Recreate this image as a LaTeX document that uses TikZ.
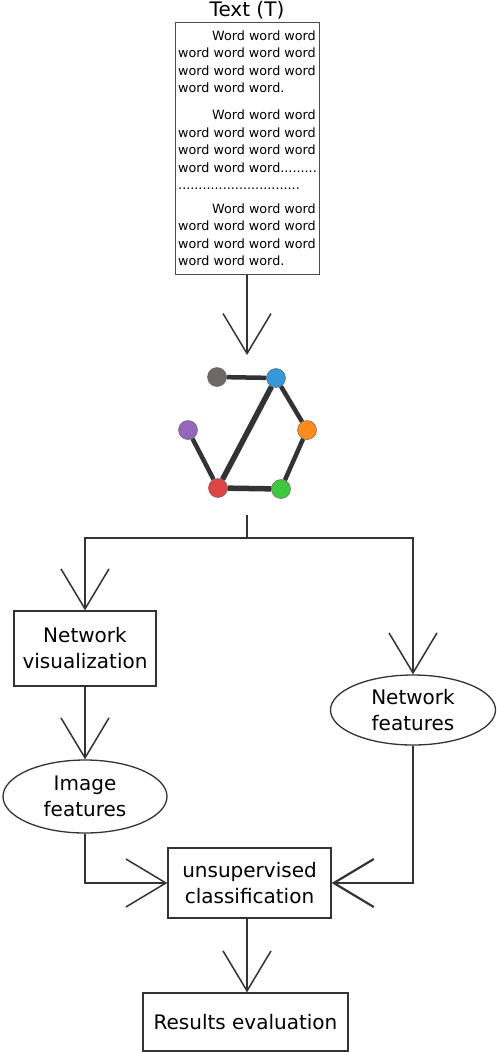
\documentclass[tikz,border=0pt]{standalone}
\usepackage{fontspec}
\setmainfont{DejaVu Sans}
\usetikzlibrary{arrows.meta,shapes.geometric,patterns}
\definecolor{vblue}{RGB}{52,152,219}
\definecolor{vorange}{RGB}{255,140,26}
\definecolor{vpurple}{RGB}{148,103,189}
\definecolor{vred}{RGB}{222,68,68}
\definecolor{vgreen}{RGB}{62,200,62}
\definecolor{vgray}{RGB}{105,105,105}

\begin{document}
\begin{tikzpicture}[x=1pt,y=-1pt,
  box/.style={draw=black!80,line width=1.3pt,inner sep=0pt,align=center,font=\fontsize{20}{26}\selectfont},
  oval/.style={box,ellipse},
  flow/.style={draw=black!80,line width=1.5pt,-{Straight Barb[length=40pt,width=48pt]}},
  plain/.style={draw=black!80,line width=1.5pt},
  link/.style={draw=black!80,line width=4.5pt},
  vertex/.style={circle,draw=black!60,line width=0.5pt,minimum size=19pt,inner sep=0pt}]
\useasboundingbox (0,0) rectangle (496,1052);

% input text
\node[font=\fontsize{20}{24}\selectfont] (title) at (247,10) {Text (T)};
\node[draw=black!70,line width=0.8pt,anchor=north,minimum height=252pt,inner xsep=3pt,
  align=left,font=\fontsize{12.75}{17.5}\selectfont] (text) at (247.5,22) {%
\hspace*{34pt}Word word word\\word word word word\\word word word word\\word word word.\\[9.5pt]
\hspace*{34pt}Word word word\\word word word word\\word word word word\\word word word.........\\
..............................\\[6pt]
\hspace*{34pt}Word word word\\word word word word\\word word word word\\word word word.};
\coordinate (gtop) at (247,355);
\draw[flow] (text.south -| gtop) -- (gtop);

% network
\node[vertex,fill=vgray,postaction={pattern=dots,pattern color=vred}] (ngray) at (217,377) {};
\node[vertex,fill=vblue] (nblue) at (276,378) {};
\node[vertex,fill=vorange] (norange) at (307,430) {};
\node[vertex,fill=vpurple] (npurple) at (188,430) {};
\node[vertex,fill=vred] (nred) at (218,488) {};
\node[vertex,fill=vgreen] (ngreen) at (281,489) {};
\draw[link] (ngray) -- (nblue);
\draw[link,line width=5.5pt] (nblue) -- (nred);
\draw[link] (nblue) -- (norange);
\draw[link] (norange) -- (ngreen);
\draw[link,line width=5.5pt] (nred) -- (ngreen);
\draw[link] (npurple) -- (nred);

% flow
\node[box,minimum width=142pt,minimum height=75pt] (netvis) at (85,648.5) {Network\\visualization};
\node[oval,minimum width=165pt,minimum height=70pt] (netfeat) at (413,710) {Network\\features};
\node[oval,minimum width=164pt,minimum height=73pt] (imgfeat) at (85,796.5) {Image\\features};
\node[box,minimum width=163pt,minimum height=70pt] (classif) at (249.5,883) {unsupervised\\classification};
\node[box,minimum width=205pt,minimum height=58pt] (results) at (245.5,1022) {Results evaluation};

\coordinate (gbot) at (247,515);
\coordinate (fork) at (247,538);
\draw[plain] (gbot) -- (fork);
\draw[flow] (fork) -| (netvis);
\draw[flow] (fork) -| (netfeat);
\draw[flow] (netvis) -- (imgfeat);
\draw[flow] (imgfeat) |- (classif);
\draw[flow,line width=2.2pt] (netfeat) |- (classif);
\draw[flow] (classif.south -| gbot) -- (results.north -| gbot);
\end{tikzpicture}
\end{document}
